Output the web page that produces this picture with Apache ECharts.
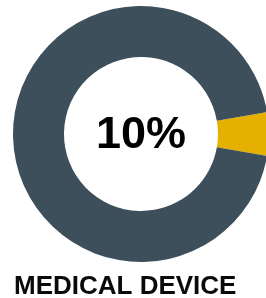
<!DOCTYPE html>
<html>
<head>
<meta charset="utf-8">
<script src="https://cdn.jsdelivr.net/npm/echarts@6/dist/echarts.min.js"></script>
<style>
  html, body { margin: 0; padding: 0; background: #fff; }
  #chart { width: 266px; height: 298px; }
</style>
</head>
<body>
<div id="chart"></div>
<script>
var names = ["Share", "Rest"];
var values = [5.5, 94.5];
var colors = ["#e5b000", "#3c4f5b"];
var centerLabel = "10%";
var caption = "MEDICAL DEVICE";

var chart = echarts.init(document.getElementById("chart"));
chart.setOption({
    animation: false,
    title: {
        text: caption,
        left: 9,
        top: 269,
        textStyle: {
            fontFamily: "Liberation Sans",
            fontWeight: "bold",
            fontSize: 26,
            color: "#0a0a0a"
        }
    },
    graphic: [{
        type: "text",
        left: 96,
        top: 113,
        style: {
            text: centerLabel,
            font: "bold 45px 'Liberation Sans'",
            fill: "#000"
        }
    }],
    series: [{
        type: "pie",
        center: [141, 134],
        radius: [77, 128],
        startAngle: values[0] / 100 * 180,
        clockwise: true,
        label: { show: false },
        labelLine: { show: false },
        emphasis: { disabled: true },
        data: names.map(function (n, i) {
            return { name: n, value: values[i], itemStyle: { color: colors[i] } };
        })
    }]
});
</script>
</body>
</html>
